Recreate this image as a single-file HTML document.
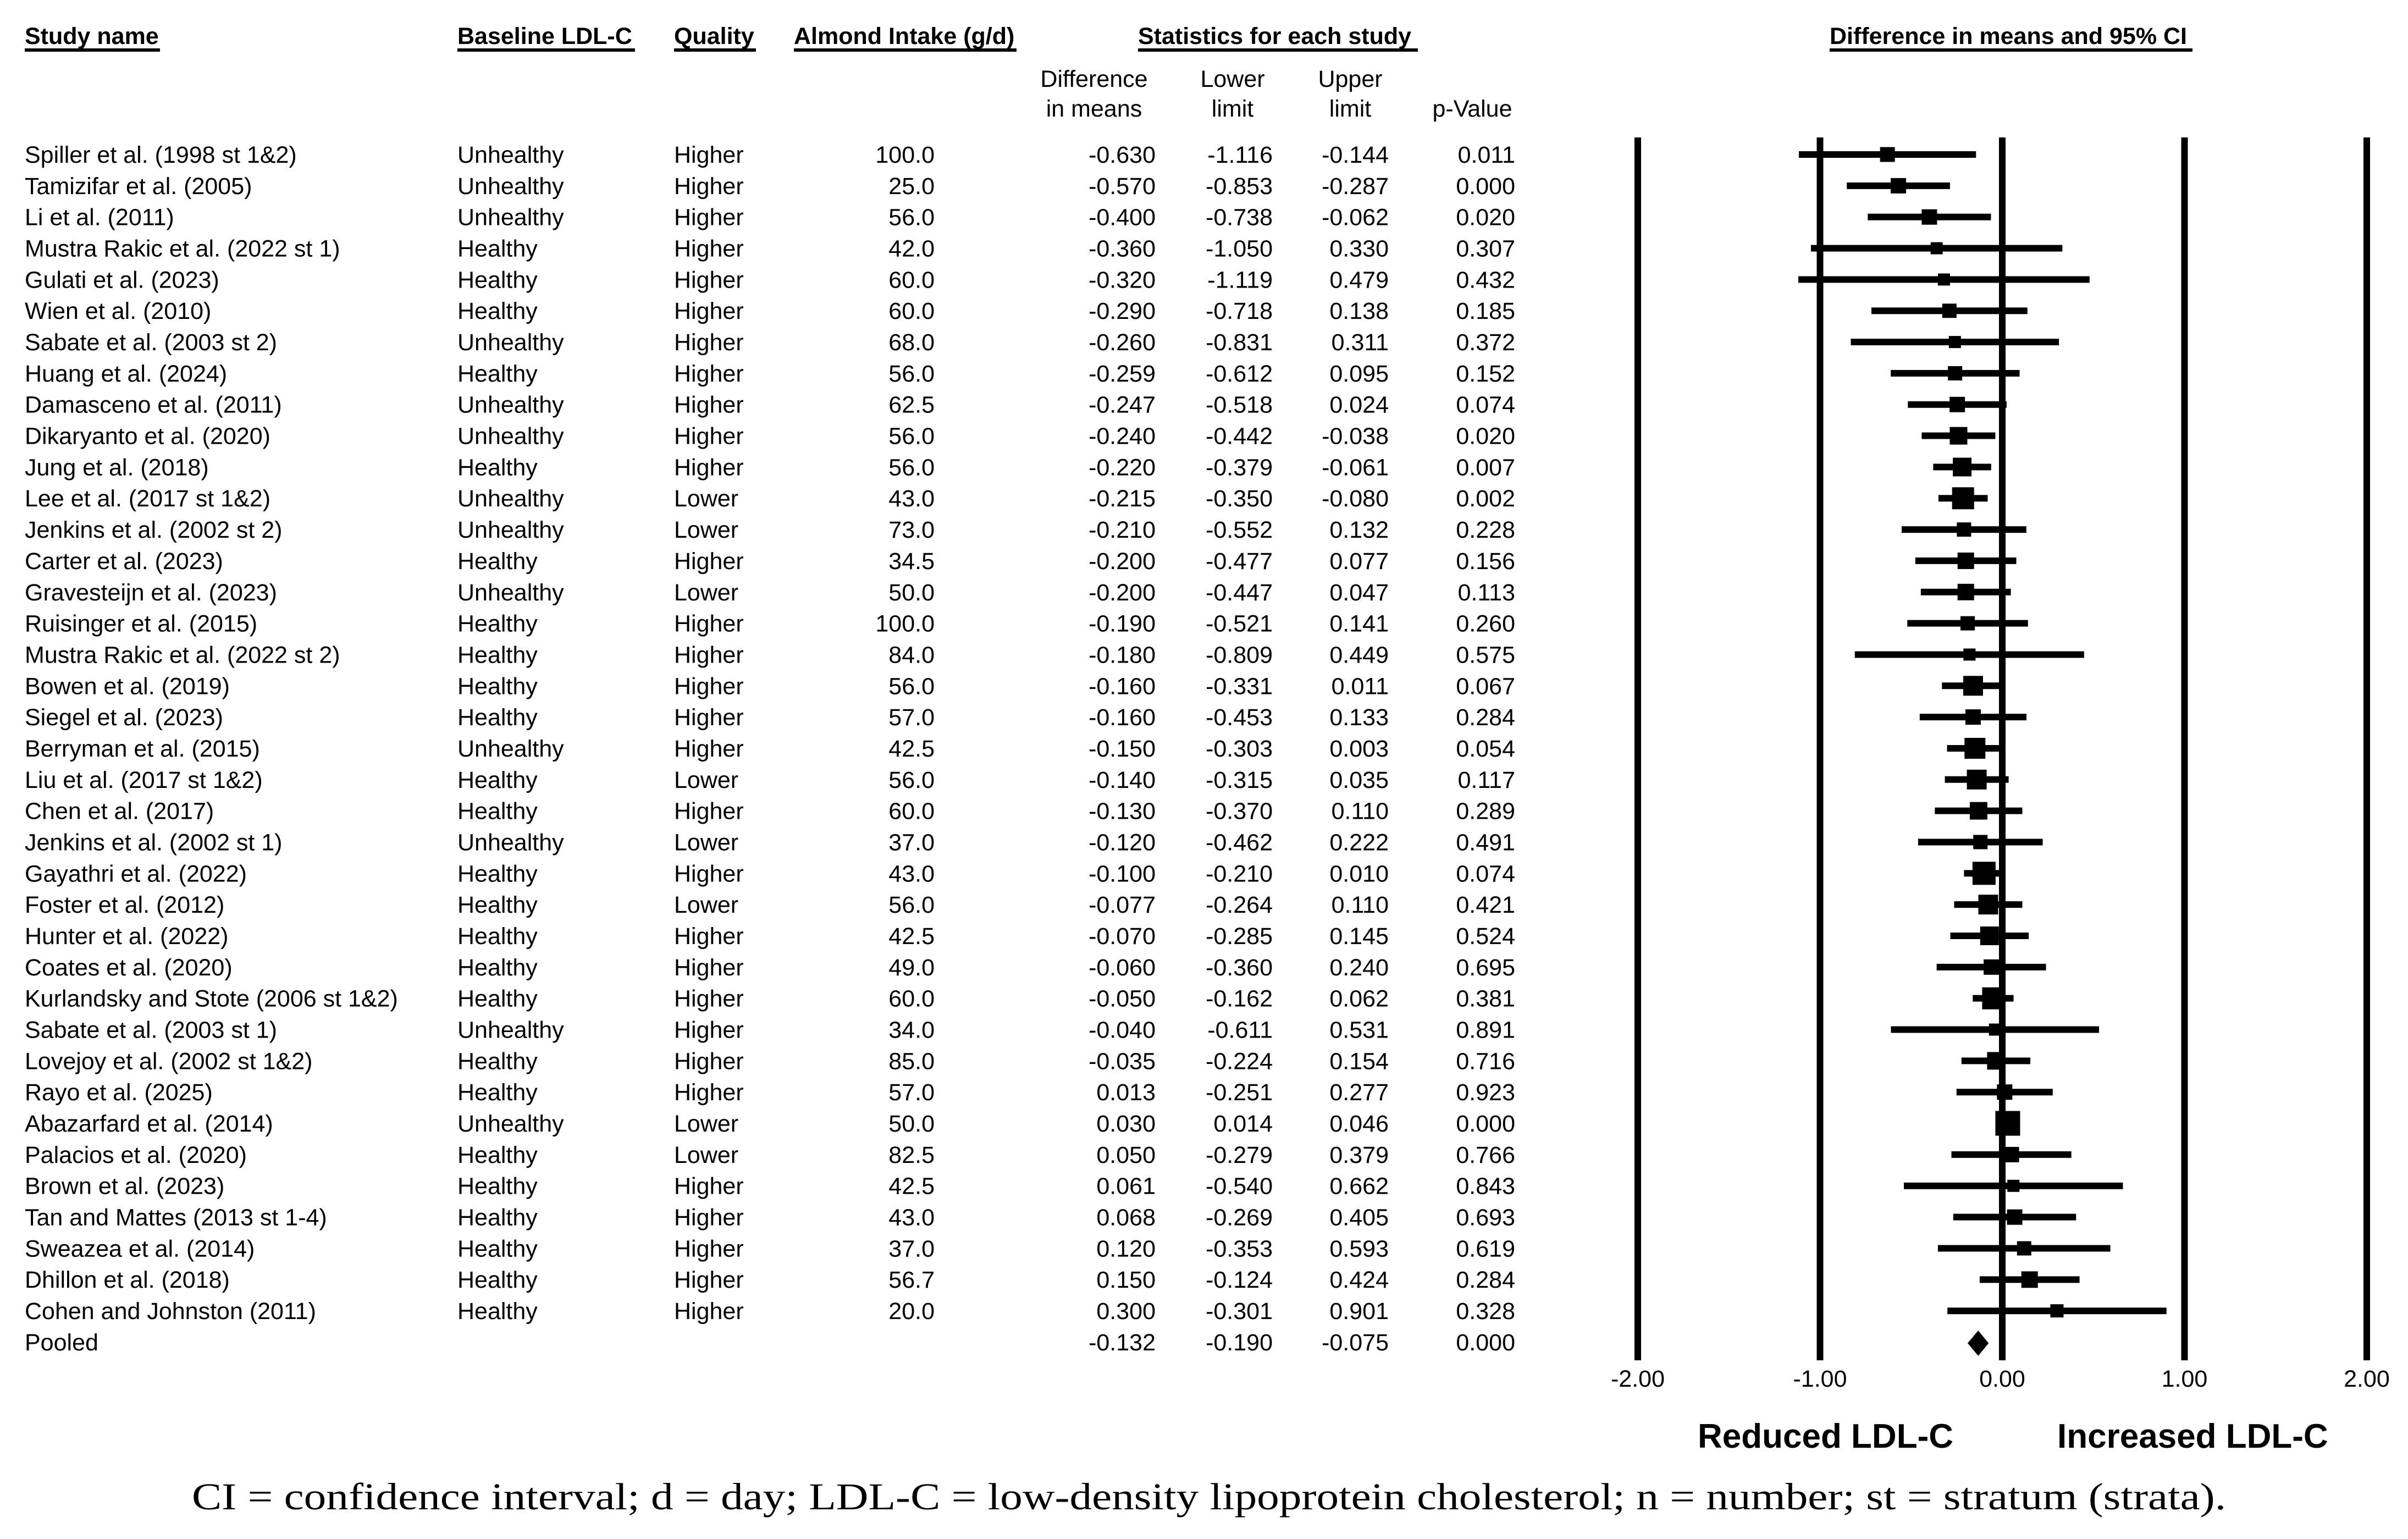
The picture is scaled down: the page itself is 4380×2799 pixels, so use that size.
<!DOCTYPE html>
<html><head><meta charset="utf-8"><style>
html,body{margin:0;padding:0;background:#fff;}
svg{display:block;font-family:"Liberation Sans",Arial,sans-serif;}
</style></head><body>
<svg id="chart" width="4380" height="2799" viewBox="0 0 4380 2799" xmlns="http://www.w3.org/2000/svg">
<rect width="4380" height="2799" fill="#fff"/>
<g id="headers" font-weight="bold" font-size="43" fill="#000">
 <text x="45" y="80">Study name</text>
 <rect x="45" y="88" width="246" height="6" fill="#000"/>
 <text x="832" y="80">Baseline LDL-C</text>
 <rect x="832" y="88" width="323" height="6" fill="#000"/>
 <text x="1226" y="80">Quality</text>
 <rect x="1226" y="88" width="149" height="6" fill="#000"/>
 <text x="1444" y="80">Almond Intake (g/d)</text>
 <rect x="1444" y="88" width="405" height="6" fill="#000"/>
 <text x="2070" y="80">Statistics for each study</text>
 <rect x="2070" y="88" width="509" height="6" fill="#000"/>
 <text x="3328" y="80">Difference in means and 95% CI</text>
 <rect x="3328" y="88" width="660" height="6" fill="#000"/>
</g>
<g id="subheaders" font-size="43" fill="#000" text-anchor="middle">
 <text x="1990" y="158">Difference</text>
 <text x="1990" y="212">in means</text>
 <text x="2242" y="158">Lower</text>
 <text x="2242" y="212">limit</text>
 <text x="2456" y="158">Upper</text>
 <text x="2456" y="212">limit</text>
 <text x="2678" y="212">p-Value</text>
</g>
<g id="rows" font-size="43" fill="#000"></g>
<g id="plot"></g>
<g font-weight="bold" font-size="62" fill="#000">
 <text x="3088" y="2633">Reduced LDL-C</text>
 <text x="3742" y="2633">Increased LDL-C</text>
</g>
<text x="349" y="2745" font-family="'Liberation Serif',serif" font-size="69" fill="#000" textLength="3700" lengthAdjust="spacingAndGlyphs">CI = confidence interval; d = day; LDL-C = low-density lipoprotein cholesterol; n = number; st = stratum (strata).</text>
</svg>
<script>
const studies = ["Spiller et al. (1998 st 1&2)","Tamizifar et al. (2005)","Li et al. (2011)","Mustra Rakic et al. (2022 st 1)","Gulati et al. (2023)","Wien et al. (2010)","Sabate et al. (2003 st 2)","Huang et al. (2024)","Damasceno et al. (2011)","Dikaryanto et al. (2020)","Jung et al. (2018)","Lee et al. (2017 st 1&2)","Jenkins et al. (2002 st 2)","Carter et al. (2023)","Gravesteijn et al. (2023)","Ruisinger et al. (2015)","Mustra Rakic et al. (2022 st 2)","Bowen et al. (2019)","Siegel et al. (2023)","Berryman et al. (2015)","Liu et al. (2017 st 1&2)","Chen et al. (2017)","Jenkins et al. (2002 st 1)","Gayathri et al. (2022)","Foster et al. (2012)","Hunter et al. (2022)","Coates et al. (2020)","Kurlandsky and Stote (2006 st 1&2)","Sabate et al. (2003 st 1)","Lovejoy et al. (2002 st 1&2)","Rayo et al. (2025)","Abazarfard et al. (2014)","Palacios et al. (2020)","Brown et al. (2023)","Tan and Mattes (2013 st 1-4)","Sweazea et al. (2014)","Dhillon et al. (2018)","Cohen and Johnston (2011)"];
const baseline = ["Unhealthy","Unhealthy","Unhealthy","Healthy","Healthy","Healthy","Unhealthy","Healthy","Unhealthy","Unhealthy","Healthy","Unhealthy","Unhealthy","Healthy","Unhealthy","Healthy","Healthy","Healthy","Healthy","Unhealthy","Healthy","Healthy","Unhealthy","Healthy","Healthy","Healthy","Healthy","Healthy","Unhealthy","Healthy","Healthy","Unhealthy","Healthy","Healthy","Healthy","Healthy","Healthy","Healthy"];
const quality = ["Higher","Higher","Higher","Higher","Higher","Higher","Higher","Higher","Higher","Higher","Higher","Lower","Lower","Higher","Lower","Higher","Higher","Higher","Higher","Higher","Lower","Higher","Lower","Higher","Lower","Higher","Higher","Higher","Higher","Higher","Higher","Lower","Lower","Higher","Higher","Higher","Higher","Higher"];
const intake = ["100.0","25.0","56.0","42.0","60.0","60.0","68.0","56.0","62.5","56.0","56.0","43.0","73.0","34.5","50.0","100.0","84.0","56.0","57.0","42.5","56.0","60.0","37.0","43.0","56.0","42.5","49.0","60.0","34.0","85.0","57.0","50.0","82.5","42.5","43.0","37.0","56.7","20.0"];
const diff = [-0.630,-0.570,-0.400,-0.360,-0.320,-0.290,-0.260,-0.259,-0.247,-0.240,-0.220,-0.215,-0.210,-0.200,-0.200,-0.190,-0.180,-0.160,-0.160,-0.150,-0.140,-0.130,-0.120,-0.100,-0.077,-0.070,-0.060,-0.050,-0.040,-0.035,0.013,0.030,0.050,0.061,0.068,0.120,0.150,0.300];
const lower = [-1.116,-0.853,-0.738,-1.050,-1.119,-0.718,-0.831,-0.612,-0.518,-0.442,-0.379,-0.350,-0.552,-0.477,-0.447,-0.521,-0.809,-0.331,-0.453,-0.303,-0.315,-0.370,-0.462,-0.210,-0.264,-0.285,-0.360,-0.162,-0.611,-0.224,-0.251,0.014,-0.279,-0.540,-0.269,-0.353,-0.124,-0.301];
const upper = [-0.144,-0.287,-0.062,0.330,0.479,0.138,0.311,0.095,0.024,-0.038,-0.061,-0.080,0.132,0.077,0.047,0.141,0.449,0.011,0.133,0.003,0.035,0.110,0.222,0.010,0.110,0.145,0.240,0.062,0.531,0.154,0.277,0.046,0.379,0.662,0.405,0.593,0.424,0.901];
const pvals = ["0.011","0.000","0.020","0.307","0.432","0.185","0.372","0.152","0.074","0.020","0.007","0.002","0.228","0.156","0.113","0.260","0.575","0.067","0.284","0.054","0.117","0.289","0.491","0.074","0.421","0.524","0.695","0.381","0.891","0.716","0.923","0.000","0.766","0.843","0.693","0.619","0.284","0.328"];
const weights = [27,28,28,22,22,26,22,26,28,32,34,40,26,30,30,26,22,36,28,38,36,32,26,42,36,34,28,40,22,32,28,45,28,22,28,26,30,24];
const pooled = {diff:-0.132, lower:-0.190, upper:-0.075, p:"0.000"};
const ticks = [-2,-1,0,1,2];
const tickLabels = ["-2.00","-1.00","0.00","1.00","2.00"];

const NS="http://www.w3.org/2000/svg";
const X0=3642, UNIT=331.5, Y0=281, STEP=56.84;
const xs = v => X0 + v*UNIT;
const ys = i => Y0 + i*STEP;
function mk(tag, attrs, parent){const e=document.createElementNS(NS,tag);for(const k in attrs)e.setAttribute(k,attrs[k]);parent.appendChild(e);return e;}
const rows=document.getElementById('rows'), plot=document.getElementById('plot');
function txt(s,x,y,anchor){const t=mk('text',{x:x,y:y,'text-anchor':anchor},rows);t.textContent=s;return t;}
const fmt = v => v.toFixed(3);
ticks.forEach((t,i)=>{
 const l=mk('line',{x1:xs(t),x2:xs(t),y1:250,y2:2474,stroke:'#000','stroke-width':12},plot);
 
 
 const tl=mk('text',{x:xs(t),y:2522,'text-anchor':'middle','font-size':43,fill:'#000'},plot);
 tl.textContent=tickLabels[i];
 
 
});
studies.forEach((s,i)=>{
 const by=ys(i)+15;
 const a=txt(s,45,by,'start');
 
 
 const b=txt(baseline[i],832,by,'start');
 
 
 const c=txt(quality[i],1226,by,'start');
 
 
 const d=txt(intake[i],1700,by,'end');
 
 
 const e=txt(fmt(diff[i]),2102,by,'end');
 
 
 const f=txt(fmt(lower[i]),2315,by,'end');
 
 
 const g=txt(fmt(upper[i]),2526,by,'end');
 
 
 const h=txt(pvals[i],2756,by,'end');
 
 
 const ci=mk('line',{x1:xs(lower[i]),x2:xs(upper[i]),y1:ys(i),y2:ys(i),stroke:'#000','stroke-width':12},plot);
 
 
 const w=weights[i];
 const sq=mk('rect',{x:xs(diff[i])-w/2,y:ys(i)-w/2,width:w,height:w,fill:'#000'},plot);
 
 
});
const pi=studies.length, py=ys(pi)+15;
const pn=txt('Pooled',45,py,'start');


[[fmt(pooled.diff),2102],[fmt(pooled.lower),2315],[fmt(pooled.upper),2526],[pooled.p,2756]].forEach(([v,x])=>{
 const t=txt(v,x,py,'end');
 
 
});
const cy=ys(pi)+2, h=23;
const dm=mk('polygon',{points:`${xs(pooled.lower)},${cy} ${xs(pooled.diff)},${cy-h} ${xs(pooled.upper)},${cy} ${xs(pooled.diff)},${cy+h}`,fill:'#000'},plot);


</script>
</body></html>
